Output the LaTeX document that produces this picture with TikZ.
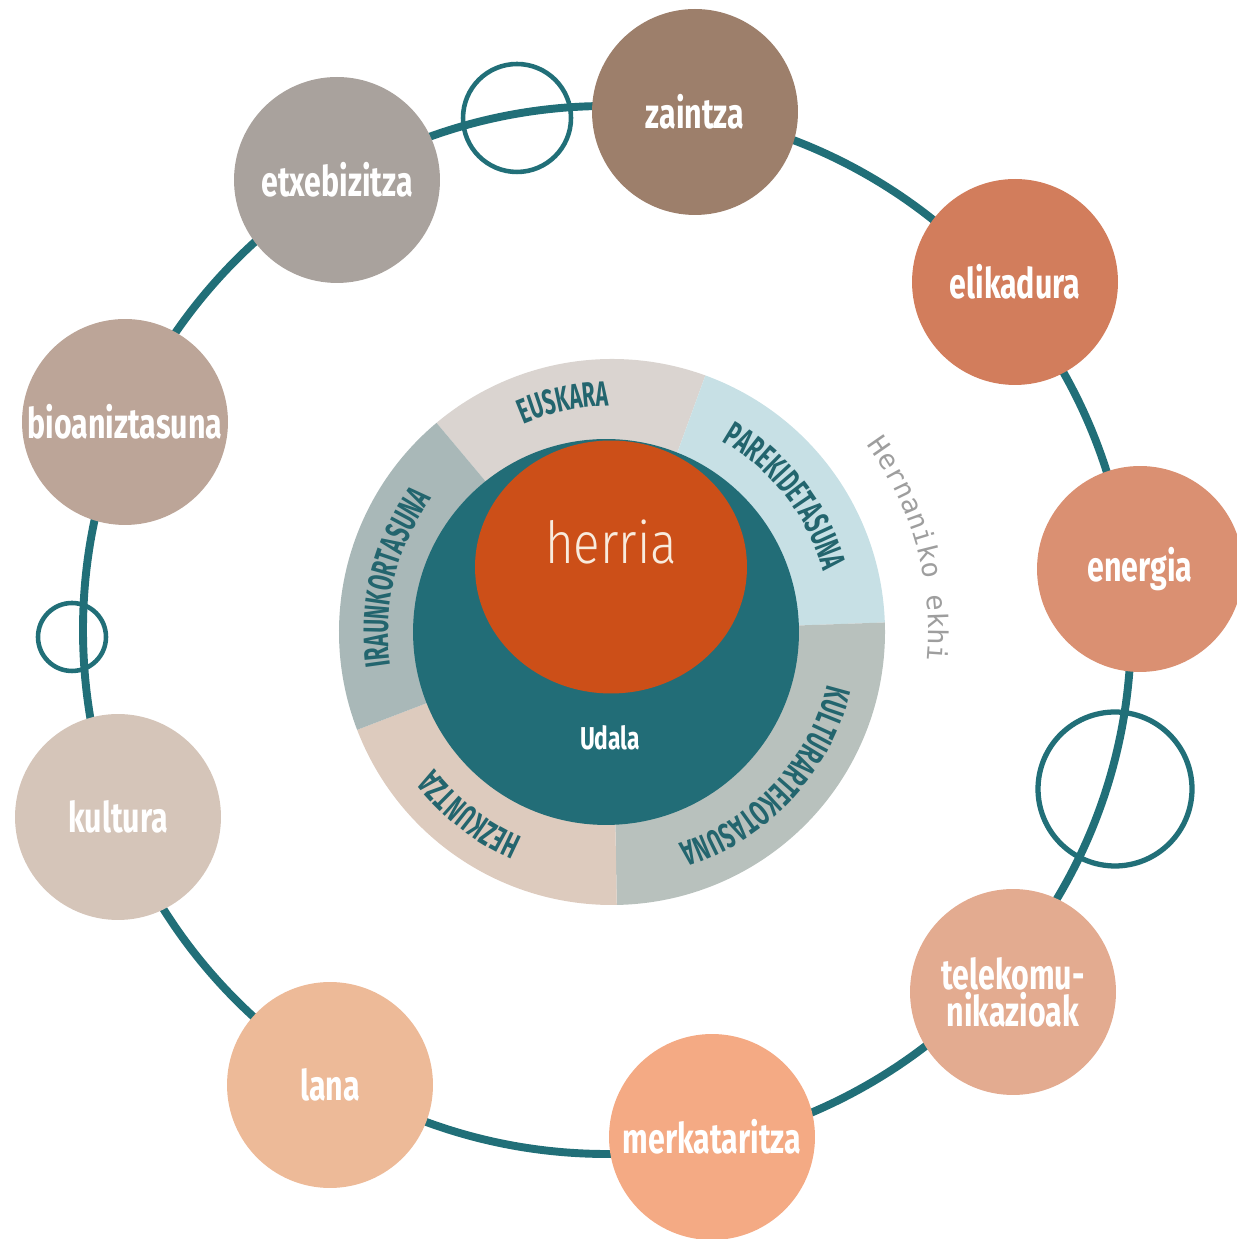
\documentclass[tikz,border=0pt]{standalone}
\usepackage{fontspec}
\usetikzlibrary{decorations.text,shapes.geometric}

\newfontfamily\labelfont[FakeStretch=0.72]{Fira Sans}
\newfontfamily\ringfont[FakeStretch=0.6]{Fira Sans}
\newfontfamily\herriafont[FakeStretch=0.85]{Fira Sans Light}
\newfontfamily\ekhifont{DejaVu Sans Mono}

\definecolor{ringteal}{HTML}{216F78}
\definecolor{labelteal}{HTML}{23656E}
\definecolor{udalateal}{HTML}{226D77}
\definecolor{herriaorange}{HTML}{CC4F18}
\definecolor{herriatext}{HTML}{F8EBDD}
\definecolor{ekhigrey}{HTML}{9E9E9E}
% bubbles
\definecolor{czaintza}{HTML}{9D7F6B}
\definecolor{cetxe}{HTML}{A9A29D}
\definecolor{celik}{HTML}{D27D5C}
\definecolor{cbioan}{HTML}{BCA598}
\definecolor{cenergia}{HTML}{DA9072}
\definecolor{ckultura}{HTML}{D5C5B9}
\definecolor{ctelekom}{HTML}{E3AB90}
\definecolor{clana}{HTML}{EDBA98}
\definecolor{cmerk}{HTML}{F4AA84}
% segments
\definecolor{seuskara}{HTML}{DAD4D0}
\definecolor{sparek}{HTML}{C7E0E5}
\definecolor{skultur}{HTML}{B8C1BD}
\definecolor{shezk}{HTML}{DDCBBE}
\definecolor{siraun}{HTML}{A9B8B8}

\begin{document}
\begin{tikzpicture}[
	x=0.02cm, y=0.02cm,
	bubble/.style={
		circle, fill=#1,
		minimum size=4.12cm,
		inner sep=0pt,
		text=white,
		align=center,
		font=\labelfont\bfseries\fontsize{24}{21}\selectfont,
	},
	hoop/.style={circle, draw=ringteal, line width=#1, inner sep=0pt},
	ringtext/.style={
		decorate,
		decoration={text along path,
			text={|\ringfont\bfseries\fontsize{20}{20}\selectfont|#1},
			text align=center, text color=labelteal},
	},
]
\useasboundingbox (0,0) rectangle (1236,1239);

% big ring
\coordinate (ringc) at (607,609);
\draw[ringteal, line width=4.5pt] (ringc) circle[radius=524];

% hollow circles on the ring
\node[hoop=2.6pt, minimum size=2.16cm] (hoopA) at (517,1121) {};
\node[hoop=2.6pt, minimum size=1.36cm] (hoopB) at (72,602) {};
\node[hoop=3pt, minimum size=3.08cm] (hoopC) at (1115,450) {};

% the nine bubbles
\node[bubble=czaintza] (zaintza) at (695,1127) {zaintza};
\node[bubble=cetxe] (etxe) at (337,1059) {etxebizitza};
\node[bubble=celik] (elik) at (1015,957) {elikadura};
\node[bubble=cbioan] (bioan) at (125,817) {bioaniztasuna};
\node[bubble=cenergia] (energia) at (1140,670) {energia};
\node[bubble=ckultura] (kultura) at (118,422) {kultura};
\node[bubble=ctelekom] (telekom) at (1013,247) {telekomu-\\nikazioak};
\node[bubble=clana] (lana) at (330,154) {lana};
\node[bubble=cmerk] (merk) at (712,102) {merkataritza};

% centre
\begin{scope}[shift={(612,607)}]
	\fill[seuskara] (0,0) -- (130:273) arc[start angle=130, end angle=70, radius=273] -- cycle;
	\fill[sparek] (0,0) -- (70:273) arc[start angle=70, end angle=2, radius=273] -- cycle;
	\fill[skultur] (0,0) -- (2:273) arc[start angle=2, end angle=-89, radius=273] -- cycle;
	\fill[shezk] (0,0) -- (-89:273) arc[start angle=-89, end angle=-159, radius=273] -- cycle;
	\fill[siraun] (0,0) -- (201:273) arc[start angle=201, end angle=130, radius=273] -- cycle;

	\path[ringtext=EUSKARA] (182:226) arc[start angle=182, end angle=22, radius=226];
	\path[ringtext=PAREKIDETASUNA] (118:220) arc[start angle=118, end angle=-42, radius=220];
	\path[ringtext=KULTURARTEKOTASUNA] (37:222) arc[start angle=37, end angle=-123, radius=222];
	\path[ringtext=HEZKUNTZA] (312:224) arc[start angle=312, end angle=152, radius=224];
	\path[ringtext=IRAUNKORTASUNA] (246:224) arc[start angle=246, end angle=86, radius=224];

	\path[decorate, decoration={text along path,
		text={|\ekhifont\fontsize{15.5}{15.5}\selectfont|Hernaniko ekhi},
		text align=center, text color=ekhigrey}]
		(75:316) arc[start angle=75, end angle=-44, radius=316];
\end{scope}

\node[circle, fill=udalateal, minimum size=7.72cm, inner sep=0pt] (udala) at (606,607) {};
\node[ellipse, fill=herriaorange, minimum width=5.44cm, minimum height=5.06cm, inner sep=0pt] (herriablob) at (611,672) {};
\node[text=herriatext, font=\herriafont\fontsize{33}{33}\selectfont, inner sep=0pt] (herria) at (611,697) {herria};
\node[text=white, font=\labelfont\bfseries\fontsize{18}{18}\selectfont, inner sep=0pt] (udalatext) at (610,501) {Udala};

\end{tikzpicture}
\end{document}
